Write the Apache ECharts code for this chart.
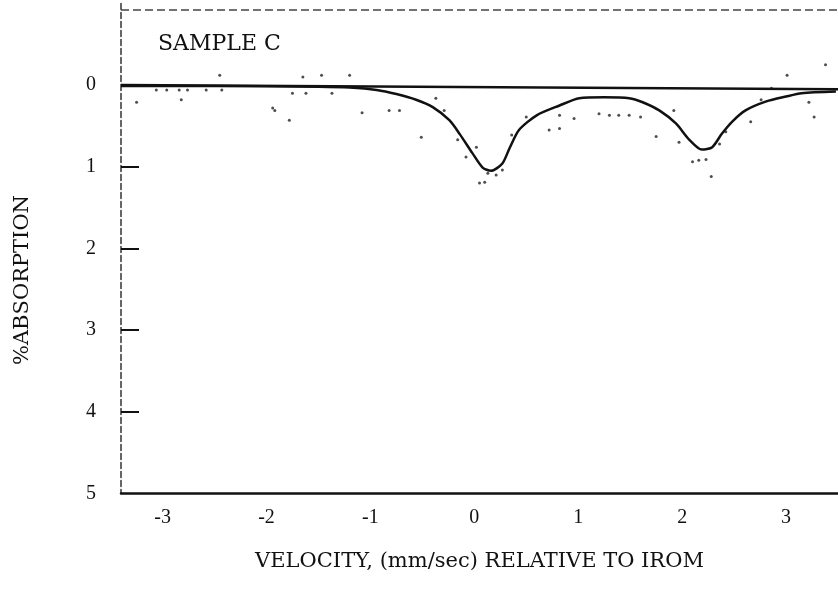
<!DOCTYPE html>
<html>
<head>
<meta charset="utf-8">
<script src="https://cdn.jsdelivr.net/npm/echarts@6.0.0/dist/echarts.min.js"></script>
<style>
  html, body { margin: 0; padding: 0; background: #fff; }
  #chart { width: 838px; height: 592px; }
</style>
</head>
<body>
<div id="chart"></div>
<script>
// tick labels
const xTicks = [-3, -2, -1, 0, 1, 2, 3];
const yTicks = [0, 1, 2, 3, 4, 5];

// zero-absorption reference line
const baseline = [[-3.4, 0.0], [3.5, 0.05]];

// fitted curve: velocity (mm/sec), % absorption
const fitV = [-3.4, -2.5, -1.5, -1.2, -0.94, -0.75, -0.56, -0.40, -0.24, -0.14, -0.02, 0.08, 0.16, 0.27, 0.34, 0.43, 0.60, 0.82, 1.01, 1.25, 1.49, 1.62, 1.78, 1.94, 2.07, 2.19, 2.29, 2.38, 2.48, 2.61, 2.81, 3.00, 3.15, 3.48];
const fitA = [0.01, 0.01, 0.02, 0.03, 0.06, 0.11, 0.18, 0.27, 0.43, 0.60, 0.83, 1.01, 1.05, 0.96, 0.77, 0.55, 0.37, 0.25, 0.16, 0.15, 0.16, 0.21, 0.31, 0.47, 0.67, 0.79, 0.76, 0.60, 0.45, 0.31, 0.20, 0.14, 0.10, 0.08];

// measured points scattered round the fit
const ptV = [-3.25, -3.06, -2.96, -2.84, -2.82, -2.76, -2.58, -2.45, -2.43, -1.94, -1.92, -1.78, -1.75, -1.65, -1.62, -1.47, -1.37, -1.2, -1.08, -0.82, -0.72, -0.51, -0.37, -0.29, -0.16, -0.08, 0.02, 0.05, 0.10, 0.13, 0.21, 0.27, 0.36, 0.50, 0.72, 0.82, 0.82, 0.96, 1.2, 1.3, 1.39, 1.49, 1.6, 1.75, 1.92, 1.97, 2.1, 2.16, 2.23, 2.28, 2.36, 2.42, 2.66, 2.76, 2.86, 3.01, 3.22, 3.27, 3.38];
const ptA = [0.21, 0.06, 0.06, 0.06, 0.18, 0.06, 0.06, -0.12, 0.06, 0.28, 0.31, 0.43, 0.10, -0.10, 0.10, -0.12, 0.10, -0.12, 0.34, 0.31, 0.31, 0.64, 0.16, 0.31, 0.67, 0.88, 0.76, 1.20, 1.19, 1.08, 1.10, 1.04, 0.61, 0.39, 0.55, 0.53, 0.37, 0.41, 0.35, 0.37, 0.37, 0.37, 0.39, 0.63, 0.31, 0.70, 0.94, 0.92, 0.91, 1.12, 0.72, 0.57, 0.45, 0.18, 0.04, -0.12, 0.21, 0.39, -0.25];

const fitData = fitV.map((v, i) => [v, fitA[i]]);
const ptData = ptV.map((v, i) => [v, ptA[i]]);

const chart = echarts.init(document.getElementById('chart'));
chart.setOption({
  backgroundColor: '#fff',
  animation: false,
  title: {
    text: 'SAMPLE C',
    left: 153,
    top: 28,
    textStyle: {
      fontFamily: 'DejaVu Serif',
      fontSize: 22,
      fontWeight: 'normal',
      color: '#111'
    }
  },
  graphic: [{
    type: 'text',
    x: 23,
    y: 280,
    rotation: Math.PI / 2,
    style: {
      text: '%ABSORPTION',
      font: '21px "DejaVu Serif"',
      fill: '#111',
      textAlign: 'center',
      textVerticalAlign: 'middle'
    }
  }],
  grid: {
    left: 121,
    right: 0,
    top: 3.4,
    bottom: 98.5
  },
  xAxis: {
    type: 'value',
    min: -3.4,
    max: 3.5,
    name: 'VELOCITY, (mm/sec) RELATIVE TO IROM',
    nameLocation: 'middle',
    nameGap: 58,
    nameTextStyle: {
      fontFamily: 'DejaVu Serif',
      fontSize: 21,
      color: '#111'
    },
    axisLine: {
      onZero: false,
      lineStyle: {color: '#111', width: 2.5}
    },
    axisTick: {show: false},
    splitLine: {show: false},
    axisLabel: {
      customValues: xTicks,
      margin: 14,
      fontFamily: 'Liberation Serif',
      fontSize: 20,
      color: '#111'
    }
  },
  yAxis: {
    type: 'value',
    inverse: true,
    min: -1,
    max: 5,
    axisLine: {
      show: true,
      onZero: false,
      lineStyle: {color: '#333', width: 1.5, type: [6, 3]}
    },
    axisTick: {
      show: true,
      inside: true,
      length: 18,
      customValues: [1, 2, 3, 4],
      lineStyle: {color: '#111', width: 2}
    },
    splitLine: {show: false},
    axisLabel: {
      customValues: yTicks,
      margin: 25,
      fontFamily: 'Liberation Serif',
      fontSize: 20,
      color: '#111'
    }
  },
  series: [
    {
      type: 'line',
      data: baseline,
      symbol: 'none',
      lineStyle: {color: '#111', width: 2.5},
      markLine: {
        silent: true,
        symbol: 'none',
        label: {show: false},
        lineStyle: {color: '#444', width: 1.5, type: [8, 4]},
        data: [{yAxis: -0.92}]
      }
    },
    {
      type: 'line',
      data: fitData,
      smooth: 0.25,
      symbol: 'none',
      lineStyle: {color: '#111', width: 2.5}
    },
    {
      type: 'scatter',
      data: ptData,
      symbol: 'circle',
      symbolSize: 3,
      itemStyle: {color: '#222'}
    }
  ]
});
</script>
</body>
</html>
